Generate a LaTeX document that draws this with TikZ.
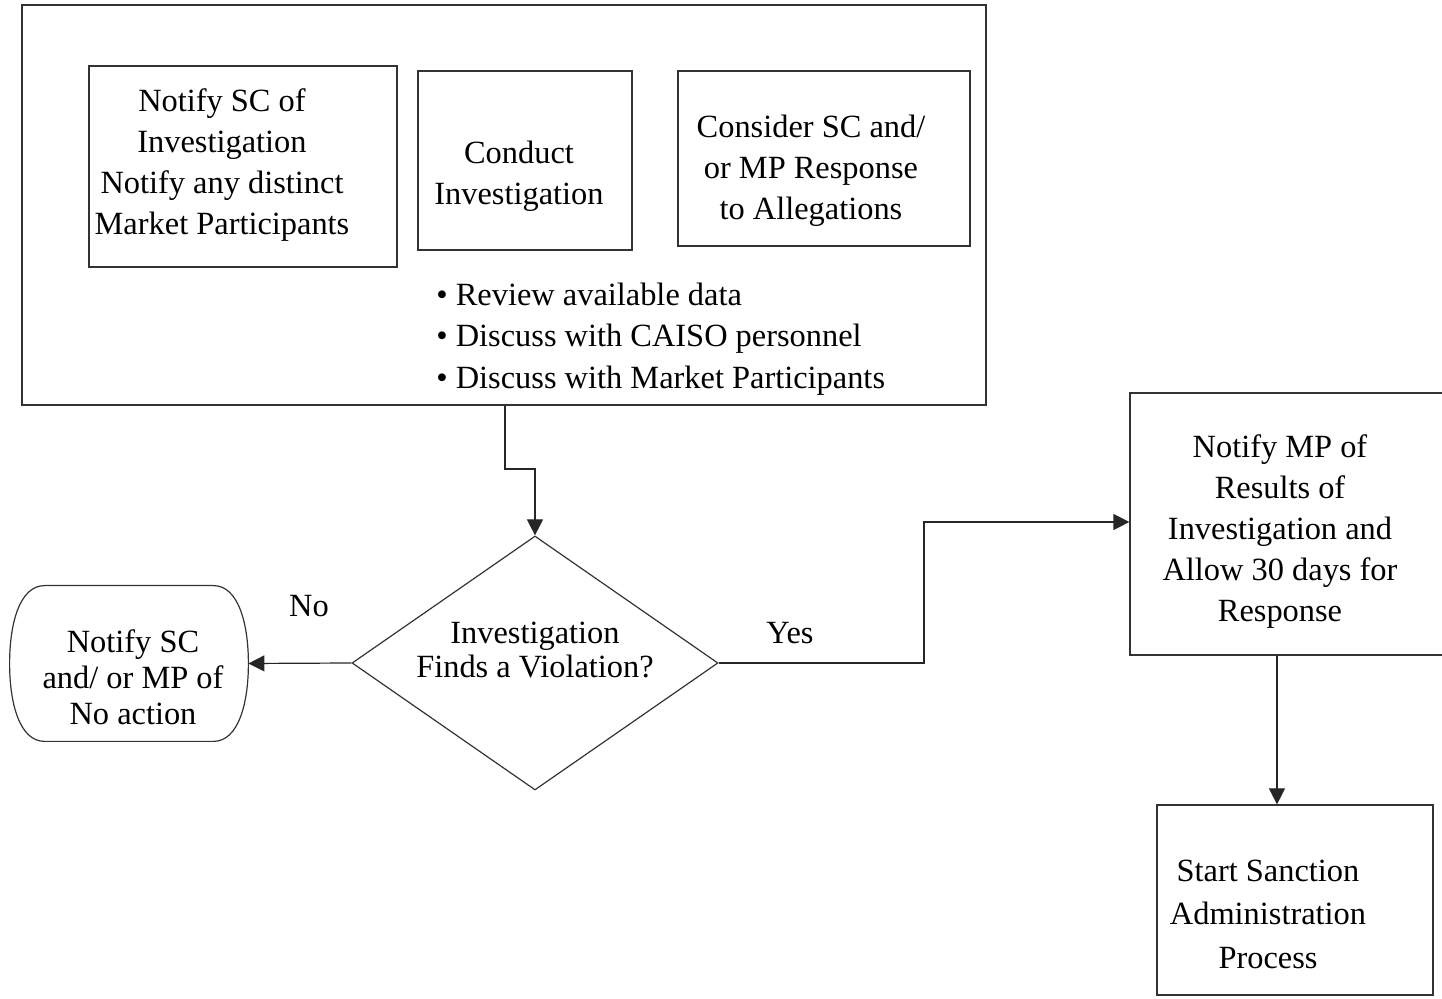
\documentclass[tikz,border=0pt]{standalone}
\usepackage{fontspec}
\setmainfont{Liberation Serif}
\usetikzlibrary{shapes.geometric,arrows.meta}

\begin{document}
\begin{tikzpicture}[x=0.5pt, y=-0.5pt,
    box/.style={rectangle, draw=black!80, line width=0.6pt, inner sep=0pt},
    txt/.style={align=center, font=\fontsize{16.2}{20.5}\selectfont, inner sep=0pt},
    conn/.style={->, draw=black!85, line width=0.6pt},
    >={Triangle[length=8pt, width=8pt]}]
    \useasboundingbox (0,0) rectangle (1442,999);

    % investigation stage
    \node[box, minimum width=482pt, minimum height=200pt] (review) at (504,205) {};
    \node[box, minimum width=154pt, minimum height=100.5pt] (notifysc) at (243,166.5) {};
    \node[txt] (notifysctext) at (222,165) {Notify SC of\\Investigation\\Notify any distinct\\Market Participants};
    \node[box, minimum width=107pt, minimum height=89.5pt] (conduct) at (525,160.5) {};
    \node[txt] (conducttext) at (519,176) {Conduct\\Investigation};
    \node[box, minimum width=146pt, minimum height=87.5pt] (consider) at (824,158.5) {};
    \node[txt] (considertext) at (811,171) {Consider SC and/\\or MP Response\\to Allegations};
    \node[txt, align=left, anchor=west, font=\fontsize{16.2}{20.75}\selectfont] (bullets) at (436,339)
        {\textbullet\ Review available data\\\textbullet\ Discuss with CAISO personnel\\\textbullet\ Discuss with Market Participants};

    % decision
    \node[diamond, draw=black!80, line width=0.6pt, inner sep=0pt, minimum width=183pt, minimum height=127pt] (finds) at (535,663) {};
    \node[txt, font=\fontsize{16.2}{17}\selectfont] (findstext) at (535,650) {Investigation\\Finds a Violation?};

    % outcomes
    \node[inner sep=0pt, minimum width=119pt, minimum height=77.5pt] (noaction) at (129,663.5) {};
    \draw[draw=black!80, line width=0.6pt] ([xshift=17.5pt]noaction.north west) -- ([xshift=-17.5pt]noaction.north east)
        .. controls ([xshift=-5pt]noaction.north east) and ([yshift=20pt]noaction.east) .. (noaction.east)
        .. controls ([yshift=-20pt]noaction.east) and ([xshift=-5pt]noaction.south east) .. ([xshift=-17.5pt]noaction.south east)
        -- ([xshift=17.5pt]noaction.south west)
        .. controls ([xshift=5pt]noaction.south west) and ([yshift=-20pt]noaction.west) .. (noaction.west)
        .. controls ([yshift=20pt]noaction.west) and ([xshift=5pt]noaction.north west) .. ([xshift=17.5pt]noaction.north west)
        -- cycle;
    \node[txt, font=\fontsize{16.2}{18}\selectfont] (noactiontext) at (133,677) {Notify SC\\and/ or MP of\\No action};
    \node[box, minimum width=165pt, minimum height=131pt] (notifymp) at (1295,524) {};
    \node[txt] (notifymptext) at (1280,532) {Notify MP of\\Results of\\Investigation and\\Allow 30 days for\\Response};
    \node[box, minimum width=138pt, minimum height=95pt] (sanction) at (1295,900) {};
    \node[txt, font=\fontsize{16.2}{21.75}\selectfont] (sanctiontext) at (1268,914) {Start Sanction\\Administration\\Process};

    \node[txt] (nolabel) at (309,606) {No};
    \node[txt] (yeslabel) at (790,633) {Yes};

    % connectors
    \coordinate (drop) at (505,469);
    \coordinate (yesbend) at (924,522);
    \coordinate (down) at (1277,727);
    \draw[conn] (review.south -| drop) -- (drop) -| (finds.north);
    \draw[conn] (finds.west) -- (noaction.east);
    \draw[conn] (finds.east) -| (yesbend) -- (notifymp.west |- yesbend);
    \draw[conn] (notifymp.south -| down) -- (down) -- (sanction.north -| down);
\end{tikzpicture}
\end{document}
